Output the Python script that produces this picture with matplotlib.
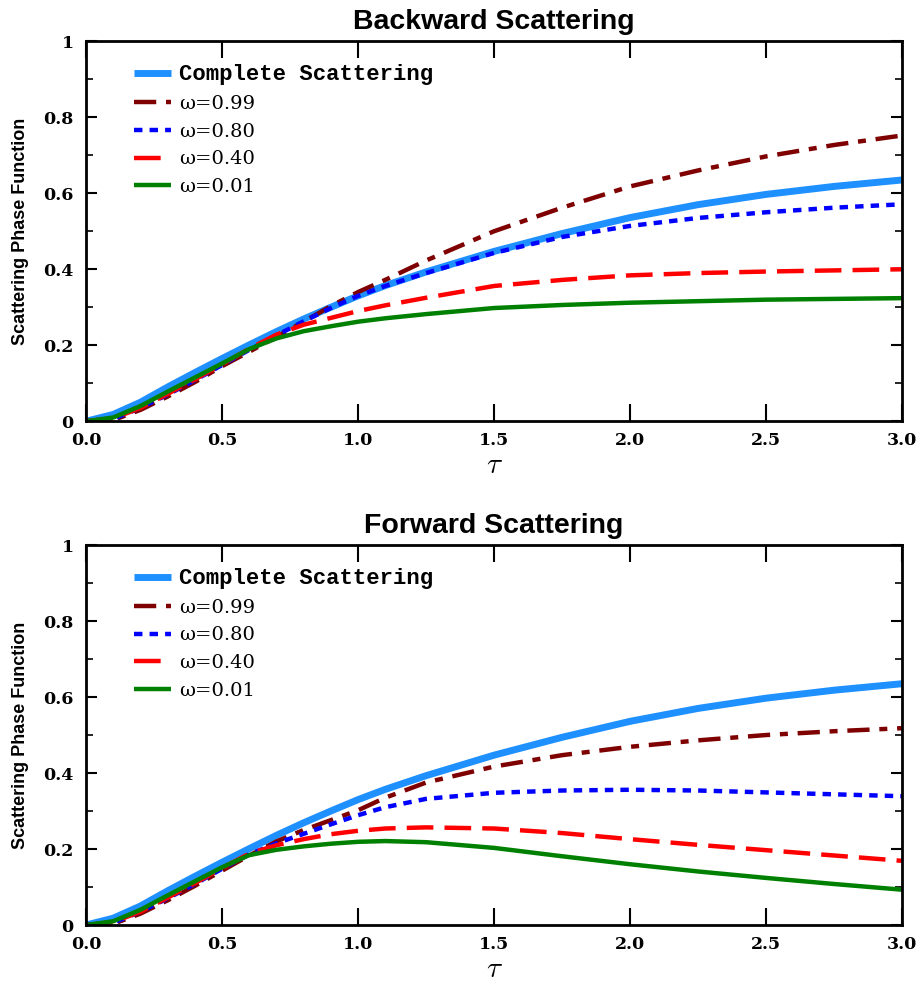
import matplotlib
matplotlib.use("Agg")
import matplotlib.pyplot as plt
from matplotlib.ticker import MultipleLocator, FuncFormatter

tau = [0.0, 0.1, 0.2, 0.3, 0.4, 0.5, 0.6, 0.7, 0.8, 0.9, 1.0, 1.1, 1.25, 1.5,
       1.75, 2.0, 2.25, 2.5, 2.75, 3.0]

complete = [0.0, 0.018, 0.05, 0.09, 0.128, 0.165, 0.201, 0.236, 0.269, 0.300,
            0.330, 0.357, 0.393, 0.447, 0.494, 0.536, 0.570, 0.597, 0.618, 0.635]

back_099 = [0.0, 0.003, 0.03, 0.065, 0.103, 0.145, 0.183, 0.222, 0.262, 0.303,
            0.340, 0.372, 0.423, 0.50, 0.562, 0.618, 0.66, 0.697, 0.727, 0.752]
back_080 = [0.0, 0.006, 0.035, 0.07, 0.108, 0.148, 0.188, 0.226, 0.263, 0.298,
            0.330, 0.356, 0.390, 0.443, 0.485, 0.514, 0.535, 0.55, 0.562, 0.571]
back_040 = [0.0, 0.008, 0.035, 0.072, 0.11, 0.15, 0.191, 0.228, 0.254, 0.272,
            0.290, 0.305, 0.325, 0.356, 0.372, 0.384, 0.39, 0.394, 0.397, 0.40]
back_001 = [0.0, 0.01, 0.04, 0.078, 0.115, 0.152, 0.19, 0.218, 0.237, 0.25,
            0.262, 0.271, 0.282, 0.298, 0.306, 0.312, 0.316, 0.32, 0.322, 0.324]

fwd_099 = [0.0, 0.003, 0.03, 0.065, 0.103, 0.143, 0.183, 0.22, 0.25, 0.276,
           0.302, 0.335, 0.375, 0.417, 0.447, 0.469, 0.486, 0.50, 0.51, 0.518]
fwd_080 = [0.0, 0.006, 0.035, 0.07, 0.108, 0.148, 0.186, 0.215, 0.24, 0.265,
           0.289, 0.31, 0.332, 0.348, 0.354, 0.356, 0.354, 0.349, 0.344, 0.339]
fwd_040 = [0.0, 0.008, 0.035, 0.072, 0.11, 0.15, 0.188, 0.21, 0.226, 0.239,
           0.248, 0.254, 0.257, 0.254, 0.242, 0.226, 0.211, 0.197, 0.183, 0.169]
fwd_001 = [0.0, 0.01, 0.04, 0.078, 0.115, 0.152, 0.184, 0.198, 0.207, 0.214,
           0.219, 0.221, 0.218, 0.203, 0.181, 0.160, 0.141, 0.124, 0.108, 0.093]

labels = ["Complete Scattering", "\u03c9=0.99", "\u03c9=0.80", "\u03c9=0.40", "\u03c9=0.01"]
titles = ["Backward Scattering", "Forward Scattering"]
panels = [[complete, back_099, back_080, back_040, back_001],
          [complete, fwd_099, fwd_080, fwd_040, fwd_001]]

styles = [
    dict(color="#1E90FF", lw=5.0, ls="-"),
    dict(color="#7F0000", lw=3.2, dashes=(5, 2.2, 1.8, 2.2)),
    dict(color="#0000FF", lw=3.2, dashes=(1.9, 1.6)),
    dict(color="#FF0000", lw=3.2, dashes=(6, 2.5)),
    dict(color="#008000", lw=3.2, ls="-"),
]

plt.rcParams["mathtext.fontset"] = "cm"
fig = plt.figure(figsize=(9.2, 9.82), dpi=100)
rects = [[0.0935, 0.571, 0.887, 0.387], [0.0935, 0.058, 0.887, 0.387]]

tickfont = dict(family="DejaVu Serif", weight="bold", size=12.5)

for rect, title, series in zip(rects, titles, panels):
    ax = fig.add_axes(rect)
    handles = []
    for ys, st, lab in zip(series, styles, labels):
        h, = ax.plot(tau, ys, label=lab, solid_capstyle="butt", **st)
        handles.append(h)
    ax.set_xlim(0, 3.0)
    ax.set_ylim(0, 1)
    ax.xaxis.set_major_locator(MultipleLocator(0.5))
    ax.yaxis.set_major_locator(MultipleLocator(0.2))
    ax.yaxis.set_minor_locator(MultipleLocator(0.1))
    ax.xaxis.set_major_formatter(FuncFormatter(lambda v, p: f"{v:.1f}"))
    ax.yaxis.set_major_formatter(FuncFormatter(
        lambda v, p: "0" if abs(v) < 1e-9 else ("1" if abs(v - 1) < 1e-9 else f"{v:.1f}")))
    ax.tick_params(axis="x", which="major", direction="in", length=12, width=1.5,
                   top=True, bottom=True, pad=8)
    ax.tick_params(axis="y", which="major", direction="in", length=8, width=1.5,
                   left=True, right=True, pad=9)
    ax.tick_params(axis="y", which="minor", direction="in", length=5, width=1.2,
                   left=True, right=True)
    for lbl in ax.get_xticklabels() + ax.get_yticklabels():
        lbl.set_fontfamily(tickfont["family"])
        lbl.set_fontweight(tickfont["weight"])
        lbl.set_fontsize(tickfont["size"])
    for sp in ax.spines.values():
        sp.set_linewidth(2.0)
    ax.set_title(title, fontsize=20.5, fontweight="bold", family="Liberation Sans", pad=9)
    ax.set_ylabel("Scattering Phase Function", fontsize=13, fontweight="bold",
                  family="Liberation Sans", labelpad=10)
    ax.set_xlabel(r"$\tau$", fontsize=21, labelpad=1)
    leg = ax.legend(handles=handles, loc="upper left", bbox_to_anchor=(0.049, 0.96),
                    frameon=False, handlelength=1.9, handletextpad=0.45,
                    labelspacing=0.5, fontsize=14, borderaxespad=0)
    texts = leg.get_texts()
    texts[0].set_family("Liberation Mono")
    texts[0].set_fontweight("bold")
    texts[0].set_fontsize(16)
    for t in texts[1:]:
        t.set_family("DejaVu Serif")

fig.savefig("out.png", dpi=100)
